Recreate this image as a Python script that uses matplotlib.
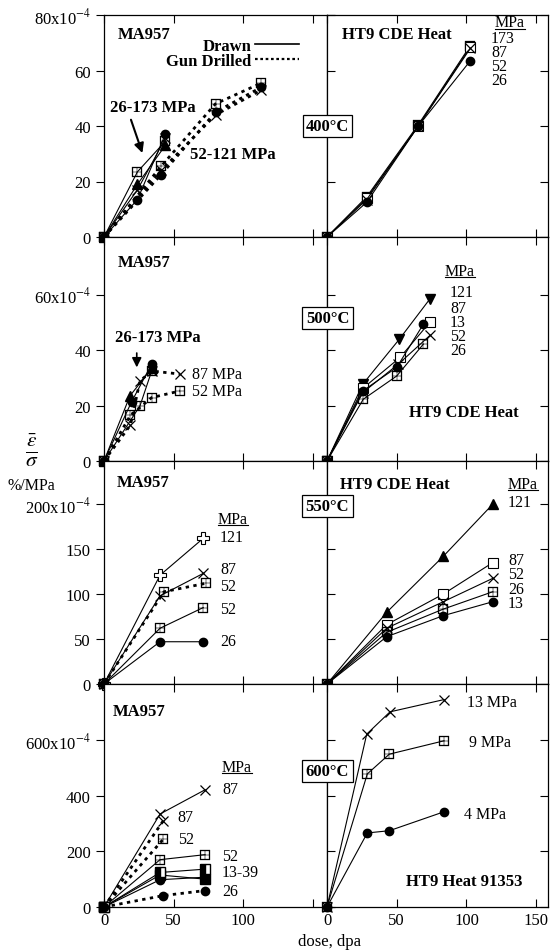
import numpy as np
import matplotlib.pyplot as plt

plt.rcParams['font.family'] = ['Liberation Serif', 'DejaVu Serif']
plt.rcParams['mathtext.fontset'] = 'stix'

# ---- 400 C ----
ma400_drawn_dose = [0, 24, 44]
ma400_drawn_bp = [0, 23.5, 34.5]
ma400_drawn_o = [0, 13.5, 37]
ma400_drawn_tri = [0, 19, 33]
ma400_drawn_x = [0, 17, 35.5]
ma400_gun_dose = [0, 41, 80, 113]
ma400_gun_bp = [0, 25.5, 48, 55.5]
ma400_gun_o = [0, 22.5, 45, 54]
ma400_gun_x = [0, 24, 44, 53]

ht400_dose = [0, 28.5, 65.5, 102.8]
ht400_173 = [0, 14.5, 40.5, 69]
ht400_87 = [0, 14, 40, 68.5]
ht400_52 = [0, 13.5, 40, 68]
ht400_26 = [0, 12.5, 40, 63.5]
ht400_labels = ['173', '87', '52', '26']

# ---- 500 C ----
ma500_o_dose, ma500_o = [0, 19.8, 34.2], [0, 21.4, 35.0]
ma500_tri_dose, ma500_tri = [0, 18.6, 34.2], [0, 23.5, 33.5]
ma500_bp_dose, ma500_bp = [0, 25.8, 34.2], [0, 19.9, 32.5]
ma500_gun87_dose, ma500_gun87 = [0, 19, 25.8, 34.2, 54.5], [0, 13, 28.9, 32.5, 31.4]
ma500_gun52_dose, ma500_gun52 = [0, 19, 34.2, 54.5], [0, 16.5, 22.9, 25.3]

ht500_121_dose, ht500_121 = [0, 25.6, 51.9, 73.9], [0, 27.7, 44.0, 58.6]
ht500_87_dose, ht500_87 = [0, 25.6, 52.4, 73.9], [0, 26.2, 37.4, 50.2]
ht500_13_dose, ht500_13 = [0, 25.6, 50, 69.1], [0, 25.3, 33.8, 49.4]
ht500_52_dose, ht500_52 = [0, 25.6, 51.2, 73.9], [0, 24.7, 35, 45.4]
ht500_26_dose, ht500_26 = [0, 26, 50, 69.1], [0, 22.3, 30.7, 42.2]
ht500_labels = ['121', '87', '13', '52', '26']

# ---- 550 C ----
ma550_dose = [0, 40.2, 71.2]
ma550_121 = [0, 121, 162]
ma550_87 = [0, 98, 123]
ma550_52 = [0, 62, 85]
ma550_26 = [0, 47, 47]
ma550_gun52_dose, ma550_gun52 = [0, 43, 73.2], [0, 102.6, 112]
ma550_labels = ['121', '87', '52', '52', '26']

ht550_dose = [0, 42.8, 83.4, 118.9]
ht550_121 = [0, 79.7, 142, 200]
ht550_87 = [0, 66, 100, 135]
ht550_52 = [0, 62, 91.5, 117.5]
ht550_26 = [0, 57.5, 83.3, 102.6]
ht550_13 = [0, 52.6, 76, 91.5]
ht550_labels = ['121', '87', '52', '26', '13']

# ---- 600 C ----
ma600_dose = [0, 40.2, 72.5]
ma600_87 = [0, 334, 421]
ma600_52 = [0, 170, 188]
ma600_13_39_half = [0, 124, 136]
ma600_13_39_sq = [0, 115, 100]
ma600_13_39_o = [0, 98, 107]
ma600_gun_dose = [0, 42.6]
ma600_gun87 = [0, 310]
ma600_gun52 = [0, 244]
ma600_gun26_dose, ma600_gun26 = [0, 42.6, 72.5], [0, 41, 59]

ht600_x_dose, ht600_13 = [0, 28.5, 45.2, 83.9], [0, 621, 701, 745]
ht600_dose = [0, 28.9, 44.7, 83.9]
ht600_9 = [0, 478, 549, 597]
ht600_4 = [0, 266, 274, 342]

temps = ['400°C', '500°C', '550°C', '600°C']
ylims = [80, 80.9, 248, 801]
yticks = [[0, 20, 40, 60, 80], [0, 20, 40, 60], [0, 50, 100, 150, 200], [0, 200, 400, 600]]

W, H = 551, 953
fig = plt.figure(figsize=(W / 100, H / 100), dpi=100)


def rect(x0, x1, y0, y1):
    return [x0 / W, 1 - y1 / H, (x1 - x0) / W, (y1 - y0) / H]


MK = {
    'bp': dict(marker='$\\boxplus$', ms=7.5, mec='k', mfc='k', mew=0.2),
    'o': dict(marker='o', ms=6, mfc='k', mec='k'),
    'sq': dict(marker='s', ms=6.5, mfc='white', mec='k', mew=0.8),
    'x': dict(marker='x', ms=7, mec='k', mew=0.9),
    'tu': dict(marker='^', ms=7, mfc='k', mec='k'),
    'td': dict(marker='v', ms=7, mfc='k', mec='k'),
    'P': dict(marker='P', ms=8.5, mfc='white', mec='k', mew=0.8),
    'hs': dict(marker='s', ms=6.5, mfc='k', mec='k', fillstyle='left', markerfacecoloralt='white'),
    'fs': dict(marker='s', ms=6.5, mfc='k', mec='k'),
}


def line(ax, x, y, mk, dotted=False):
    if dotted:
        ax.plot(x, y, color='k', lw=2.0, ls=(0, (1.2, 1.6)), clip_on=False, zorder=3, **MK[mk])
    else:
        ax.plot(x, y, color='k', lw=0.8, ls='-', clip_on=False, zorder=3, **MK[mk])


NUM_PT = 11.5


def stack(ax, x, y_first, y_last, labels):
    # one multi-line block of stacked stress labels
    disp = ax.transData.transform([(x, y_first), (x, y_last)])
    pitch = (disp[0][1] - disp[1][1]) / (len(labels) - 1)
    ax.text(x, (y_first + y_last) / 2, '\n'.join(labels), va='center', ha='left',
            fontsize=NUM_PT, linespacing=pitch / (NUM_PT * 100 / 72))


axes = []
tops = [16, 238, 462, 685, 908]
for r in range(4):
    axl = fig.add_axes(rect(104, 327, tops[r], tops[r + 1]))
    axr = fig.add_axes(rect(327, 548, tops[r], tops[r + 1]))
    for j, ax in enumerate((axl, axr)):
        ax.set_xlim(0, 160 if j == 0 else 158.5)
        ax.set_ylim(0, ylims[r])
        ax.set_xticks([0, 50, 100, 150])
        ax.set_yticks(yticks[r])
        ax.tick_params(direction='in', top=True, right=True, length=6, width=0.8, labelsize=12)
        for s in ax.spines.values():
            s.set_linewidth(0.9)
        if r < 3:
            ax.set_xticklabels([])
        elif j == 0:
            ax.set_xticklabels(['0', '50', '100', ''])
    labs = [str(t) for t in yticks[r]]
    labs[-1] = labs[-1] + 'x10$^{-4}$'
    axl.set_yticklabels(labs)
    axl.tick_params(axis='y', which='both', left=True, direction='out')
    axr.set_yticklabels([])
    axes.append((axl, axr))

bold = dict(fontsize=12, fontweight='bold')
num = dict(fontsize=NUM_PT)

# row 1
a, b = axes[0]
line(a, ma400_drawn_dose, ma400_drawn_bp, 'bp')
line(a, ma400_drawn_dose, ma400_drawn_tri, 'tu')
line(a, ma400_drawn_dose, ma400_drawn_x, 'x')
line(a, ma400_drawn_dose, ma400_drawn_o, 'o')
line(a, ma400_gun_dose, ma400_gun_bp, 'bp', True)
line(a, ma400_gun_dose, ma400_gun_o, 'o', True)
line(a, ma400_gun_dose, ma400_gun_x, 'x', True)
a.text(10, 73.2, 'MA957', va='center', **bold)
a.text(106, 68.8, 'Drawn', ha='right', va='center', **bold)
a.text(106, 63.4, 'Gun Drilled', ha='right', va='center', **bold)
a.plot([108.5, 140], [69.4, 69.4], color='k', lw=1.2)
a.plot([108.5, 140], [64.1, 64.1], color='k', lw=1.6, ls=(0, (1.2, 1.2)))
a.text(4.3, 46.8, '26-173 MPa', va='center', **bold)
a.annotate('', xy=(28.2, 29.3), xytext=(18.7, 43.2),
           arrowprops=dict(arrowstyle='-|>', color='k', lw=1.5, mutation_scale=14))
a.text(61.7, 29.9, '52-121 MPa', va='center', **bold)

line(b, ht400_dose, ht400_173, 'bp')
line(b, ht400_dose, ht400_87, 'sq')
line(b, ht400_dose, ht400_52, 'x')
line(b, ht400_dose, ht400_26, 'o')
b.text(10.8, 73.2, 'HT9 CDE Heat', va='center', **bold)
mpa_spots = [(b, 120.5, 77.3)]
stack(b, 117.6, 71.4, 56.9, ht400_labels)

# row 2
a, b = axes[1]
line(a, ma500_bp_dose, ma500_bp, 'bp')
line(a, ma500_tri_dose, ma500_tri, 'tu')
line(a, ma500_o_dose, ma500_o, 'o')
line(a, ma500_gun87_dose, ma500_gun87, 'x', True)
line(a, ma500_gun52_dose, ma500_gun52, 'bp', True)
a.text(10, 71.9, 'MA957', va='center', **bold)
a.text(7.9, 44.8, '26-173 MPa', va='center', **bold)
a.annotate('', xy=(23.5, 32.8), xytext=(23.5, 40),
           arrowprops=dict(arrowstyle='-|>', color='k', lw=1.2, mutation_scale=14))
a.text(63.1, 31.4, '87 MPa', va='center', **num)
a.text(63.1, 25.3, '52 MPa', va='center', **num)

line(b, ht500_121_dose, ht500_121, 'td')
line(b, ht500_87_dose, ht500_87, 'sq')
line(b, ht500_52_dose, ht500_52, 'x')
line(b, ht500_26_dose, ht500_26, 'bp')
line(b, ht500_13_dose, ht500_13, 'o')
mpa_spots.append((b, 84.6, 68.8))
b.text(88.2, 61.1, ht500_labels[0], va='center', **num)
stack(b, 88.2, 55.0, 40.5, ht500_labels[1:])
b.text(98.3, 17.7, 'HT9 CDE Heat', ha='center', va='center', **bold)

# row 3
a, b = axes[2]
line(a, ma550_dose, ma550_121, 'P')
line(a, ma550_dose, ma550_87, 'x')
line(a, ma550_gun52_dose, ma550_gun52, 'bp', True)
line(a, ma550_dose, ma550_52, 'bp')
line(a, ma550_dose, ma550_26, 'o')
a.text(9.3, 224.4, 'MA957', va='center', **bold)
mpa_spots.append((a, 81.8, 183.3))
for lab, yy in zip(ma550_labels, [163.3, 127.8, 108.9, 83.3, 47.8]):
    a.text(83.2, yy, lab, va='center', **num)

line(b, ht550_dose, ht550_121, 'tu')
line(b, ht550_dose, ht550_87, 'sq')
line(b, ht550_dose, ht550_52, 'x')
line(b, ht550_dose, ht550_26, 'bp')
line(b, ht550_dose, ht550_13, 'o')
b.text(9.3, 222.2, 'HT9 CDE Heat', va='center', **bold)
mpa_spots.append((b, 129.8, 222))
b.text(129.8, 202.2, ht550_labels[0], va='center', **num)
stack(b, 129.8, 136.7, 91.1, ht550_labels[1:])

# row 4
a, b = axes[3]
line(a, ma600_dose, ma600_87, 'x')
line(a, ma600_gun_dose, ma600_gun87, 'x', True)
line(a, ma600_gun_dose, ma600_gun52, 'bp', True)
line(a, ma600_dose, ma600_52, 'bp')
line(a, ma600_dose, ma600_13_39_sq, 'fs')
line(a, ma600_dose, ma600_13_39_o, 'o')
line(a, ma600_dose, ma600_13_39_half, 'hs')
line(a, ma600_gun26_dose, ma600_gun26, 'o', True)
a.text(6.5, 703.8, 'MA957', va='center', **bold)
mpa_spots.append((a, 84.6, 502.7))
for xx, yy, lab in [(84.6, 423.7, '87'), (52.4, 323.2, '87'), (53.1, 244.2, '52'),
                    (84.6, 183.1, '52'), (84.6, 125.7, '13-39'), (84.6, 57.5, '26')]:
    a.text(xx, yy, lab, va='center', **num)

line(b, ht600_x_dose, ht600_13, 'x')
line(b, ht600_dose, ht600_9, 'bp')
line(b, ht600_dose, ht600_4, 'o')
b.text(100.4, 736, '13 MPa', va='center', **num)
b.text(101.9, 592.5, '9 MPa', va='center', **num)
b.text(98.3, 333.9, '4 MPa', va='center', **num)
b.text(98.3, 93.4, 'HT9 Heat 91353', ha='center', va='center', **bold)

# temperature boxes
for t, yc in zip(temps, [127, 319, 507, 772]):
    fig.text(327.5 / W, 1 - yc / H, t, ha='center', va='center', zorder=10, **bold,
             bbox=dict(boxstyle='square,pad=0.2', fc='white', ec='k', lw=0.9))

# underlined MPa headers
fig.canvas.draw()
rend = fig.canvas.get_renderer()
for ax, xx, yy in mpa_spots:
    t = ax.text(xx, yy, 'MPa', va='center', **num)
    bb = t.get_window_extent(renderer=rend).transformed(fig.transFigure.inverted())
    fig.add_artist(plt.Line2D([bb.x0, bb.x1], [bb.y0 + 0.002, bb.y0 + 0.002],
                              transform=fig.transFigure, color='k', lw=0.8))

fig.text(32 / W, 1 - 450 / H, r'$\frac{\bar{\varepsilon}}{\sigma}$', ha='center', va='center', fontsize=22)
fig.text(31 / W, 1 - 486 / H, '%/MPa', ha='center', va='center', fontsize=11.5)
fig.text(330 / W, 1 - 942 / H, 'dose, dpa', ha='center', va='center', fontsize=12)

fig.savefig('out.png', dpi=100)
